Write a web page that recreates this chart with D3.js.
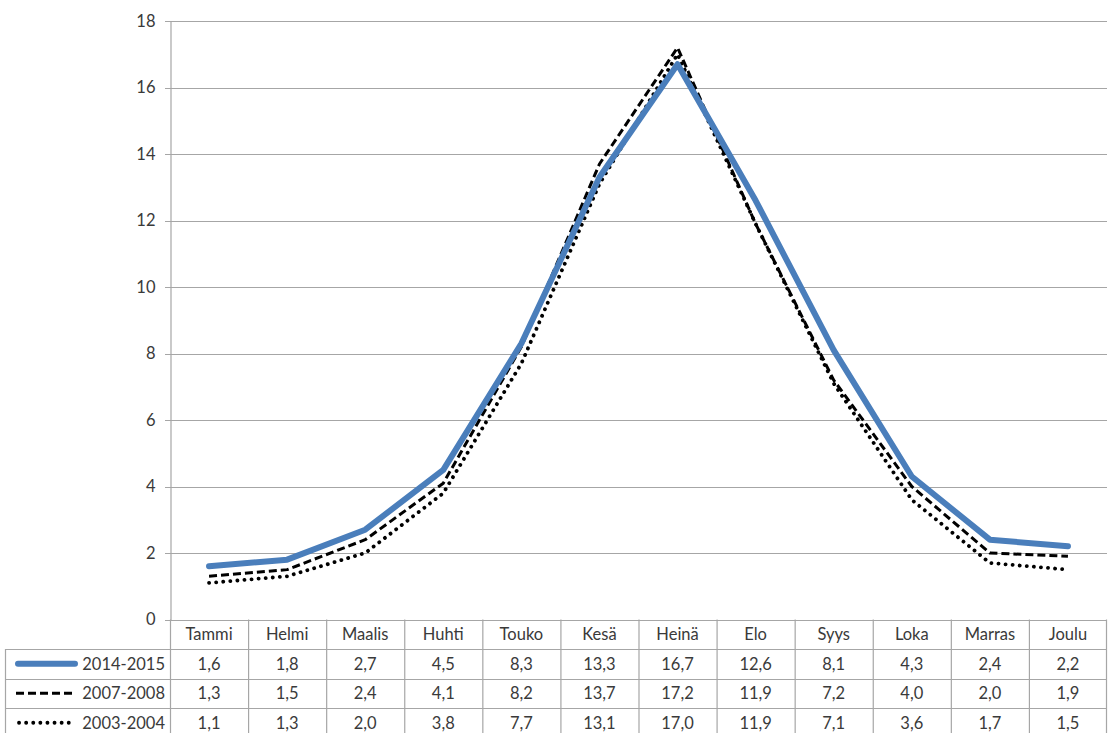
<!DOCTYPE html>
<html>
<head>
<meta charset="utf-8">
<script src="https://cdn.jsdelivr.net/npm/d3@7"></script>
<style>
  body { margin: 0; background: #fff; }
  text { font-family: Lato, "Open Sans", sans-serif; fill: #3a3a3a; }
</style>
</head>
<body>
<script>
const months = ["Tammi", "Helmi", "Maalis", "Huhti", "Touko", "Kesä", "Heinä", "Elo", "Syys", "Loka", "Marras", "Joulu"];
const series2014 = [1.6, 1.8, 2.7, 4.5, 8.3, 13.3, 16.7, 12.6, 8.1, 4.3, 2.4, 2.2];
const series2007 = [1.3, 1.5, 2.4, 4.1, 8.2, 13.7, 17.2, 11.9, 7.2, 4.0, 2.0, 1.9];
const series2003 = [1.1, 1.3, 2.0, 3.8, 7.7, 13.1, 17.0, 11.9, 7.1, 3.6, 1.7, 1.5];
const seriesNames = ["2014-2015", "2007-2008", "2003-2004"];
const yTicks = [0, 2, 4, 6, 8, 10, 12, 14, 16, 18];

const w = 1108, h = 733;
const plotLeft = 170, plotRight = 1107;
const plotTop = 21, zeroY = 619.5;
const rowH = 29.5;

const series = [
  { name: seriesNames[0], values: series2014, color: "#4a7ebb", width: 6, dash: null, cap: "round", keyX: [18, 75] },
  { name: seriesNames[1], values: series2007, color: "#000", width: 3, dash: "8,4", cap: "butt", keyX: [16, 76] },
  { name: seriesNames[2], values: series2003, color: "#000", width: 3.8, dash: "0.1,7", cap: "round", keyX: [19, 72] }
];

const svg = d3.select("body").append("svg")
  .attr("width", w)
  .attr("height", h);

const x = d3.scaleBand().domain(months).range([plotLeft, plotRight]);
const y = d3.scaleLinear().domain([0, 18]).range([zeroY, plotTop]);

// gridlines
svg.append("g")
  .selectAll("line")
  .data(yTicks)
  .enter()
  .append("line")
  .attr("x1", plotLeft - 5)
  .attr("x2", plotRight)
  .attr("y1", d => Math.round(y(d)) + 0.5)
  .attr("y2", d => Math.round(y(d)) + 0.5)
  .attr("stroke", "#a6a6a6")
  .attr("stroke-width", 1.2);

// y axis
const yAxis = d3.axisLeft(y).tickValues(yTicks).tickSize(0).tickPadding(15);
const yg = svg.append("g")
  .attr("transform", "translate(" + (plotLeft + 0.5) + ",0)")
  .call(yAxis);
yg.select(".domain").attr("stroke", "#a6a6a6").attr("stroke-width", 1.2);
yg.selectAll("text")
  .attr("font-size", 16.5)
  .attr("font-family", "Lato, sans-serif")
  .attr("fill", "#3a3a3a");

// lines
const line = d3.line()
  .x((d, i) => x(months[i]) + x.bandwidth() / 2)
  .y(d => y(d));

series.slice().reverse().forEach(s => {
  svg.append("path")
    .datum(s.values)
    .attr("d", line)
    .attr("fill", "none")
    .attr("stroke", s.color)
    .attr("stroke-width", s.width)
    .attr("stroke-dasharray", s.dash)
    .attr("stroke-linecap", s.cap)
    .attr("stroke-linejoin", "round");
});

// data table
const table = svg.append("g").attr("stroke", "#a6a6a6").attr("stroke-width", 1.2);
const tableBottom = zeroY + rowH * 4 + 2;

// vertical lines of month columns
table.selectAll(".vline")
  .data(months.concat(["end"]))
  .enter()
  .append("line")
  .attr("x1", (d, i) => i < months.length ? x(d) + 0.5 : plotRight - 0.5)
  .attr("x2", (d, i) => i < months.length ? x(d) + 0.5 : plotRight - 0.5)
  .attr("y1", zeroY)
  .attr("y2", tableBottom);

// legend column left border
table.append("line")
  .attr("x1", 5.5).attr("x2", 5.5)
  .attr("y1", zeroY + rowH).attr("y2", tableBottom);

// horizontal row lines
table.selectAll(".hline")
  .data(seriesNames)
  .enter()
  .append("line")
  .attr("x1", 5)
  .attr("x2", plotRight)
  .attr("y1", (d, i) => Math.round(zeroY + rowH * (i + 1)) + 0.5)
  .attr("y2", (d, i) => Math.round(zeroY + rowH * (i + 1)) + 0.5);

// month header
svg.append("g")
  .selectAll("text")
  .data(months)
  .enter()
  .append("text")
  .attr("x", d => x(d) + x.bandwidth() / 2)
  .attr("y", zeroY + rowH / 2)
  .attr("dy", "0.36em")
  .attr("text-anchor", "middle")
  .attr("font-size", 16.5)
  .text(d => d);

// rows
series.forEach((s, r) => {
  const cy = zeroY + rowH * (r + 1.5);
  const row = svg.append("g");
  row.append("line")
    .attr("x1", s.keyX[0])
    .attr("x2", s.keyX[1])
    .attr("y1", cy)
    .attr("y2", cy)
    .attr("stroke", s.color)
    .attr("stroke-width", s.width)
    .attr("stroke-dasharray", s.dash)
    .attr("stroke-linecap", s.cap);
  row.append("text")
    .attr("x", 165)
    .attr("y", cy)
    .attr("dy", "0.36em")
    .attr("text-anchor", "end")
    .attr("font-size", 16.5)
    .text(s.name);
  row.selectAll(".val")
    .data(s.values)
    .enter()
    .append("text")
    .attr("x", (d, i) => x(months[i]) + x.bandwidth() / 2)
    .attr("y", cy)
    .attr("dy", "0.36em")
    .attr("text-anchor", "middle")
    .attr("font-size", 16.5)
    .text(d => d.toFixed(1).replace(".", ","));
});
</script>
</body>
</html>
